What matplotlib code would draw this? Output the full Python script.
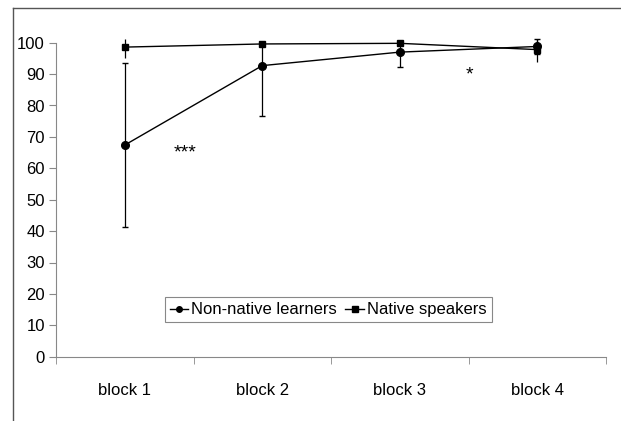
import matplotlib.pyplot as plt
from matplotlib.lines import Line2D

plt.rcParams['font.family'] = ['Liberation Sans', 'DejaVu Sans']

blocks = ['block 1', 'block 2', 'block 3', 'block 4']

# mean % correct per block
non_native = [67.4, 92.7, 97.0, 98.8]
native = [98.6, 99.6, 99.8, 97.8]

# error bars (lower, upper)
non_native_lo = [26.2, 16.0, 4.8, 2.5]
non_native_hi = [26.2, 7.0, 2.8, 2.4]
native_lo = [3.5, 0.5, 0.5, 4.0]
native_hi = [2.6, 0.5, 0.5, 3.4]

fig = plt.figure(figsize=(6.21, 4.21), dpi=100)
ax = fig.add_axes([56 / 621, 1 - 356.7 / 421, 550 / 621, 104 * 3.14 / 421])

x = list(range(len(blocks)))

ax.errorbar(x, non_native, yerr=[non_native_lo, non_native_hi], color='black',
            lw=1, marker='o', ms=5.5, capsize=2.5, elinewidth=0.9)
ax.errorbar(x, native, yerr=[native_lo, native_hi], color='black',
            lw=1, marker='s', ms=5, capsize=0, elinewidth=0.9)

ax.text(0.44, 64.9, '***', ha='center', va='center', fontsize=14)
ax.text(2.51, 89.7, '*', ha='center', va='center', fontsize=14)

ax.set_xlim(-0.5, 3.5)
ax.set_ylim(0, 104)
ax.set_yticks(range(0, 101, 10))
ax.set_xticks(x)
ax.set_xticklabels(blocks)
ax.set_xticks([-0.5, 0.5, 1.5, 2.5, 3.5], minor=True)
ax.tick_params(axis='x', which='major', length=0, pad=19, labelsize=12)
ax.tick_params(axis='x', which='minor', length=5, color='#888888', direction='out')
ax.tick_params(axis='y', length=5, color='#888888', labelsize=12, pad=3)

for s in ['top', 'right']:
    ax.spines[s].set_visible(False)
ax.spines['left'].set_bounds(0, 100)
ax.spines['left'].set_color('#888888')
ax.spines['bottom'].set_color('#888888')

handles = [Line2D([], [], color='black', lw=1, marker='o', ms=4),
           Line2D([], [], color='black', lw=1, marker='s', ms=4)]
leg = ax.legend(handles, ['Non-native learners', 'Native speakers'],
                loc='center', bbox_to_anchor=(0.495, 14.9 / 104), ncol=2,
                fontsize=12, handlelength=1.1, handletextpad=0.2,
                columnspacing=0.5, borderpad=0.3, borderaxespad=0,
                fancybox=False, framealpha=1, edgecolor='#888888')
leg.get_frame().set_linewidth(0.8)

# outer frame lines
fig.add_artist(Line2D([13 / 621, 1], [1 - 7.5 / 421, 1 - 7.5 / 421], color='#555555', lw=1))
fig.add_artist(Line2D([13 / 621, 13 / 621], [0, 1 - 7.5 / 421], color='#555555', lw=1))

fig.savefig('out.png', dpi=100)
